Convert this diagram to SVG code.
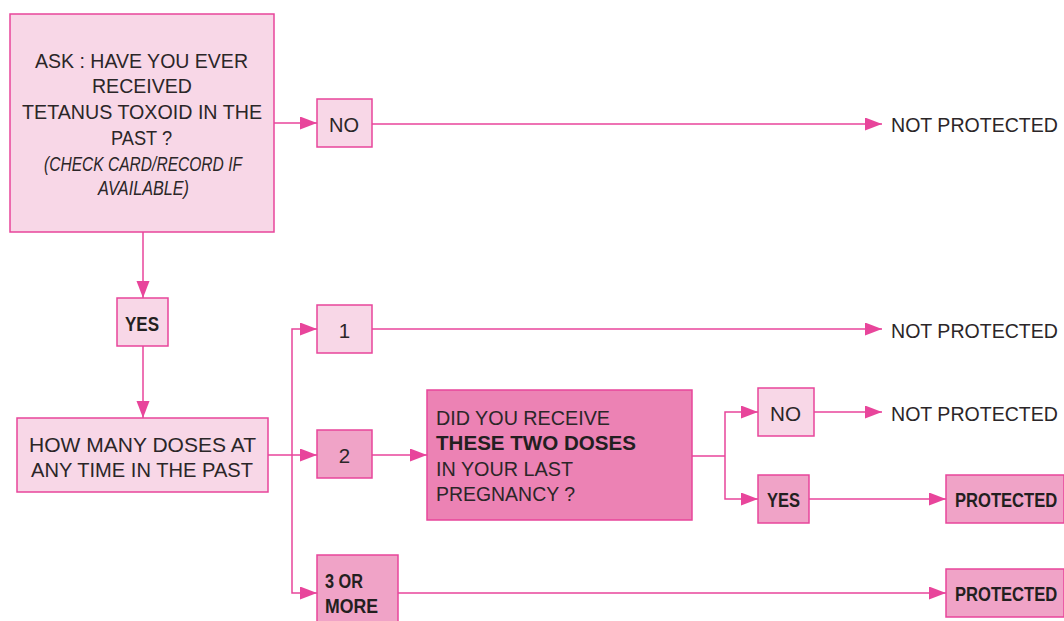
<svg xmlns="http://www.w3.org/2000/svg" width="1064" height="621" viewBox="0 0 1064 621">
<defs>
<style>
.lt{fill:#f8d7e7;stroke:#e8459b;stroke-width:1.5}
.md{fill:#f0a3c7;stroke:#e8459b;stroke-width:1.5}
.dk{fill:#ec82b4;stroke:#e8459b;stroke-width:1.5}
.t{font-family:"Liberation Sans",Arial,sans-serif;font-size:20.5px;fill:#2b2628}
.b{font-family:"Liberation Sans",Arial,sans-serif;font-size:20.5px;font-weight:bold;fill:#231f20}
.n{font-family:"Liberation Sans",Arial,sans-serif;font-size:20px;font-weight:bold;fill:#231f20}
.i{font-style:italic}
.c{stroke:#e8459b;stroke-width:1.5;fill:none}
.m{marker-end:url(#ah)}
</style>
<marker id="ah" markerUnits="userSpaceOnUse" markerWidth="18" markerHeight="14" refX="17" refY="6.5" orient="auto">
<path d="M0,0 L17,6.5 L0,13 z" fill="#e8459b"/>
</marker>
</defs>
<g id="connectors">
<path class="c m" d="M274,123 H317"/>
<path class="c m" d="M372,124 H882"/>
<path class="c m" d="M143,232 V298"/>
<path class="c m" d="M143,346 V418"/>
<path class="c m" d="M268,455 H317"/>
<path class="c m" d="M292,455 V329 H317"/>
<path class="c m" d="M292,455 V593 H317"/>
<path class="c m" d="M372,329 H882"/>
<path class="c m" d="M372,455 H427"/>
<path class="c" d="M692,456 H725"/>
<path class="c m" d="M725,456 V412 H758"/>
<path class="c m" d="M725,456 V499 H758"/>
<path class="c m" d="M814,412 H882"/>
<path class="c m" d="M809,499 H946"/>
<path class="c m" d="M398,593 H946"/>
</g>
<g id="ask">
<rect class="lt" x="10" y="14" width="264" height="218"/>
<text class="t" x="35" y="68" textLength="213" lengthAdjust="spacingAndGlyphs">ASK : HAVE YOU EVER</text>
<text class="t" x="92" y="93" textLength="100" lengthAdjust="spacingAndGlyphs">RECEIVED</text>
<text class="t" x="22" y="119" textLength="240" lengthAdjust="spacingAndGlyphs">TETANUS TOXOID IN THE</text>
<text class="t" x="111" y="145" textLength="61" lengthAdjust="spacingAndGlyphs">PAST ?</text>
<text class="t i" x="44" y="171" textLength="198" lengthAdjust="spacingAndGlyphs">(CHECK CARD/RECORD IF</text>
<text class="t i" x="98" y="195" textLength="91" lengthAdjust="spacingAndGlyphs">AVAILABLE)</text>
</g>
<g id="no1">
<rect class="lt" x="317" y="99" width="55" height="48"/>
<text class="t" x="329" y="132" textLength="30" lengthAdjust="spacingAndGlyphs">NO</text>
</g>
<g id="np1">
<text class="t" x="891" y="132" textLength="167" lengthAdjust="spacingAndGlyphs">NOT PROTECTED</text>
</g>
<g id="yes1">
<rect class="lt" x="117" y="298" width="51" height="48"/>
<text class="n" x="125" y="331" textLength="34" lengthAdjust="spacingAndGlyphs">YES</text>
</g>
<g id="howmany">
<rect class="lt" x="17" y="418" width="251" height="74"/>
<text class="t" x="29" y="452" textLength="227" lengthAdjust="spacingAndGlyphs">HOW MANY DOSES AT</text>
<text class="t" x="31" y="477" textLength="222" lengthAdjust="spacingAndGlyphs">ANY TIME IN THE PAST</text>
</g>
<g id="one">
<rect class="lt" x="317" y="305" width="55" height="48"/>
<text class="t" x="344.5" y="338" text-anchor="middle">1</text>
</g>
<g id="np2">
<text class="t" x="891" y="338" textLength="167" lengthAdjust="spacingAndGlyphs">NOT PROTECTED</text>
</g>
<g id="two">
<rect class="md" x="317" y="430" width="55" height="48"/>
<text class="t" x="344.5" y="463" text-anchor="middle">2</text>
</g>
<g id="three">
<rect class="md" x="317" y="555" width="81" height="70"/>
<text class="n" x="325" y="588" textLength="38" lengthAdjust="spacingAndGlyphs">3 OR</text>
<text class="n" x="325" y="613" textLength="53" lengthAdjust="spacingAndGlyphs">MORE</text>
</g>
<g id="didyou">
<rect class="dk" x="427" y="390" width="265" height="130"/>
<text class="t" x="436" y="425" textLength="174" lengthAdjust="spacingAndGlyphs">DID YOU RECEIVE</text>
<text class="b" x="436" y="450" textLength="200" lengthAdjust="spacingAndGlyphs">THESE TWO DOSES</text>
<text class="t" x="436" y="476" textLength="137" lengthAdjust="spacingAndGlyphs">IN YOUR LAST</text>
<text class="t" x="436" y="501" textLength="139" lengthAdjust="spacingAndGlyphs">PREGNANCY ?</text>
</g>
<g id="no2">
<rect class="lt" x="758" y="388" width="56" height="48"/>
<text class="t" x="770" y="421" textLength="31" lengthAdjust="spacingAndGlyphs">NO</text>
</g>
<g id="np3">
<text class="t" x="891" y="421" textLength="167" lengthAdjust="spacingAndGlyphs">NOT PROTECTED</text>
</g>
<g id="yes2">
<rect class="md" x="758" y="475" width="51" height="48"/>
<text class="n" x="767" y="507" textLength="33" lengthAdjust="spacingAndGlyphs">YES</text>
</g>
<g id="prot1">
<rect class="md" x="946" y="475" width="118" height="48"/>
<text class="n" transform="translate(955,507) scale(0.83,1)" x="0" y="0">PROTECTED</text>
</g>
<g id="prot2">
<rect class="md" x="946" y="569" width="118" height="48"/>
<text class="n" transform="translate(955,601) scale(0.83,1)" x="0" y="0">PROTECTED</text>
</g>
</svg>
